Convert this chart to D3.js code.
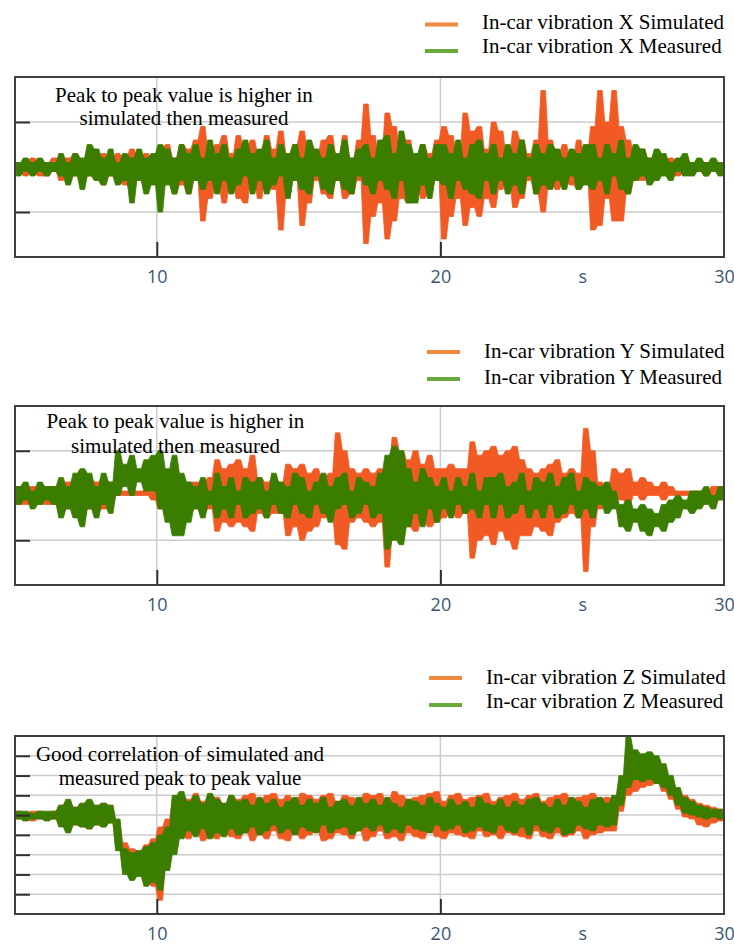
<!DOCTYPE html>
<html><head><meta charset="utf-8">
<script src="https://cdn.jsdelivr.net/npm/d3@7"></script>
<style>body{margin:0;background:#fff}svg{display:block}</style>
</head><body>
<svg id="c" width="734" height="945"></svg>
<script>
// ---------- DATA ----------
// Signals are given as per-bin peak envelopes (max / min) over 0.25 s bins from 5 s to 30 s.
const tStart = 5, binWidth = 0.25;
const xGridValues = [10, 20];
const xLabelValues = [10, 20, 25, 30];
const xLabelTexts = ["10", "20", "s", "30"];

const xSimHi = [1,1,2,1,1,2, 2,2,3,1,4,2,3,1,3,2,4,2,3,2, 3,5,2,5, 4, 6, 9,3, 5, 7,3,7,4,6, 3,7,4, 8,3, 5, 8,4, 3,6, 7,3,7, 2,6, 14, 7,3, 12, 9, 3,6,2,5,3,6, 9, 7,3, 12,8, 9,4, 10,8, 3, 8,6, 3,6, 17, 6, 3,5,2,6,3, 9, 17, 10, 17, 9, 6, 3, 4,2,3,1,2,1,2,1,1,1,1,1];
const xSimLo = [-1,-2,-1,-2,-2,-1, -3,-2,-2,-4,-2,-3,-4,-2,-3,-4,-5,-3,-5,-3, -5,-3,-6,-4, -6, -3, -12,-7, -4, -8,-4,-7,-8,-3, -7,-3,-5, -14,-6, -3, -13,-8, -3,-6, -7,-3,-7, -6,-3, -17, -11,-8, -16, -12, -7,-8,-3,-7,-6,-3, -16, -11,-7, -13,-9, -11,-7, -9,-5, -3, -9,-7, -3,-6, -10, -4, -5,-3,-4,-5,-3, -14, -13, -7, -12, -12, -6, -3, -3,-2,-3,-1,-2,-2,-1,-1,-1,-2,-1,-1];
const xMeasHi = [1,2,1,2,1,1, 3,1,3, 2,5, 4,2,4,1,3, 2, 4,2,3, 5, 4,2,5, 3,5, 2,6,3, 5,2,4,6,3, 4,6,2,5,3,5,2,6,4,2,5,3,6,2,4,5,2,6, 7,3,8,5, 3,5,2,5, 5,3,6,2,5,6,3, 5,2,5,3,6,2,5,3,5, 4,2,4,3,5, 5,2,5,3,6,2,5, 4,2,4, 3,1,2,3, 1,2,1,2,1];
const xMeasLo = [-2,-1,-2,-1,-2,-1, -2,-4,-2, -5,-2, -3,-4,-2,-4,-3, -8, -3,-6,-4, -10, -4,-6,-3, -6,-3, -5,-3,-6, -3,-6,-4,-2,-6, -3,-6,-4,-2,-7,-3,-5,-6,-2,-5,-6,-3,-5,-6,-2,-4,-6,-3, -5,-7,-3,-8, -8,-4,-7,-3, -4,-7,-3,-5,-6,-7,-3, -6,-3,-6,-4,-6,-2,-6,-4,-5, -3,-5,-2,-5,-4, -5,-3,-6,-2,-5,-6,-3, -2,-4,-3, -2,-3,-1,-2, -2,-1,-2,-1,-2];

const ySimHi = [2,2,2,2,2,2, 3,3,4,4,4,3,4,3, 1,1,1,1,1,2, 2,3,2, 3,3,3,3,4, 8,6,7,8,6,9, 4,3,4,3, 7,6,7,5,6, 4,5, 14,10, 6,5,6,5,6, 5, 13, 10,8,10,7,9, 6, 6,7,6,6, 12, 9,10, 11,9,10, 11,8, 6,5,6,7, 8, 5,6,5, 15, 10, 3,2, 6,5,6, 3,4,3,2,3,2, 1,1,1,1,1,2,2];
const ySimLo = [-2,-2,-2,-2,-2,-2, -4,-3,-4,-5,-3,-4,-3,-3, 0,0,0,0,0,-1, -3,-2,-3, -3,-4,-3,-4,-3, -8,-6,-7,-6,-7,-8, -4,-5,-4,-4, -9,-7,-10,-8,-7, -5,-4, -11,-12, -6,-5,-6,-7,-6, -16, -9, -8,-7,-8,-6,-7, -6, -5,-4,-5,-4, -14, -10,-9, -11,-8,-10, -12,-9, -9,-7,-8,-9, -6, -5,-4,-5, -17, -7, -3,-2, -1,-1,-2, 0,-1,0,0,-1,0, 0,0,0,0,0,0,-1];
const yMeasHi = [2,3,1,3,2,2, 4,2,5, 6, 5,2,5,3, 10, 7,9,6,8,9, 10,6,9, 5,3, 2,4,1,5,2,4,1,4,3, 4,1,5,3,2,5,4,1,3,5,2,4,5,1,4,3,2,5, 9,11,10, 6,3,6,4,2, 4,1,4,2,5,1,4, 4,5,2,3,5,1,4,3,5,2,4,5,1,4,3,2,3,1, -2,-1,-3,-2, -3,-4,-2,-1, 0,-1,1, 1,2,0,2];
const yMeasLo = [-2,-1,-3,-2,-1,-2, -5,-3,-5, -7, -3,-5,-2,-4, 0, 2,0,3,1,1, -3,-6,-9, -9,-6, -3,-5,-2,-5,-3,-5,-2,-5,-4, -3,-5,-2,-4,-5,-2,-4,-5,-2,-4,-6,-3,-2,-5,-4,-2,-5,-4, -12,-10,-11, -7,-4,-7,-3,-6, -3,-5,-2,-4,-3,-5,-2, -5,-2,-5,-4,-2,-5,-3,-5,-2,-5,-4,-2,-5,-3,-5,-2,-4,-3, -7,-8,-6,-8, -9,-7,-8,-6, -5,-3,-4, -3,-2,-3,-1];

const zSimHi = [2,1,2,2,1,2,5,7,4,6,7,5,6,5, -4, -14,-17,-18, -15,-12, -6, -2, 8, 10,8,11,7,10,9,6,10,8,10,11,7,10,11,8,10,7,11,10,8,10,11,7,10,9,8,11, 10,11,7,12,10,8,9,10,11,12,7,10,11,8,9,10,11,7,9,10,11,8,10,11,7,9,10,11,8,9,10,11,8,9, 8, 16, 34, 32,30,31,28, 24,19,13, 10,8, 6,5,4,3];
const zSimLo = [-2,-2,-3,-2,-2,-2,-5,-8,-5,-6,-7,-5,-6,-4, -14, -25,-28,-30, -33,-36, -43, -26, -16, -11,-12,-8,-13,-11,-12,-8,-11,-12,-9,-13,-10,-12,-8,-12,-13,-9,-12,-10,-8,-13,-12,-9,-10,-12,-8,-13, -11,-8,-12,-11,-13,-9,-11,-12,-8,-11,-12,-9,-10,-11,-12,-8,-11,-10,-12,-9,-10,-11,-12,-8,-11,-12,-9,-11,-10,-8,-12,-10,-9,-8, -8, 2, 10, 12,14,15,16, 12,8,3, -1,-2, -5,-6,-4,-3];
const zMeasHi = [2,2,1,2,2,2, 5,8,4,6,8,5,6,5, -2, -17,-19,-18, -16,-14, -10, -6, 10, 12,7,10,6,11,8,6,10,7, 8,5,9,6,8,4,7,9,5,8,6,9,4,7,8,5,9,6, 8,5,9,6,4,8,7,5,9,6,4,8,5,7,4,9,6,5,8,4,7,5,8,9,6,4,8,5,9,7,4,8,9,6, 10, 20, 40, 33,31,32,30, 26,20,14, 9,7, 5,4,3,3];
const zMeasLo = [-2,-3,-2,-2,-3,-2, -6,-9,-5,-6,-7,-5,-6,-4, -18, -30,-33,-31, -36,-34, -38, -28, -20, -12,-8,-11,-7,-12,-9,-11,-7,-10, -9,-6,-10,-8,-5,-9,-7,-10,-6,-8,-9,-5,-9,-7,-6,-10,-8,-6, -8,-5,-9,-7,-9,-5,-7,-8,-9,-5,-8,-7,-5,-9,-8,-6,-8,-9,-5,-8,-9,-6,-10,-5,-8,-9,-6,-10,-9,-5,-7,-8,-5,-6, -5, 5, 14, 18,17,18,16, 14,10,5, 1,0, -1,-2,-1,-2];

// ---------- LAYOUT ----------
const panels = [
  {top:77, bottom:257, yDomain:[-20,20], yTicks:[-10,10],
   sim:[xSimHi,xSimLo], meas:[xMeasHi,xMeasLo],
   legend:["In-car vibration X Simulated","In-car vibration X Measured"],
   legTextX:482, legTextY:[29,53], legLineX:[425,458], legLineY:[24.5,51],
   note:["Peak to peak value is higher in","simulated then measured"], noteX:184, noteY:[101.5,125]},
  {top:406, bottom:585, yDomain:[-20,20], yTicks:[-10,10],
   sim:[ySimHi,ySimLo], meas:[yMeasHi,yMeasLo],
   legend:["In-car vibration Y Simulated","In-car vibration Y Measured"],
   legTextX:484, legTextY:[358,384], legLineX:[427,460], legLineY:[352,379],
   note:["Peak to peak value is higher in","simulated then measured"], noteX:175.5, noteY:[428,453]},
  {top:736, bottom:914, yDomain:[-50,40], yTicks:[-40,-30,-20,-10,0,10,20,30],
   sim:[zSimHi,zSimLo], meas:[zMeasHi,zMeasLo],
   legend:["In-car vibration Z Simulated","In-car vibration Z Measured"],
   legTextX:486, legTextY:[684,708], legLineX:[429,462], legLineY:[678,705],
   note:["Good correlation of simulated and","measured peak to peak value"], noteX:180, noteY:[761,785]}
];
const L = 15, R = 724;
const simColor = "#f15a22", measColor = "#3a7d00";
const simLegColor = "#f0883e", measLegColor = "#6aaa3c";
const serif = "'Liberation Serif','Times New Roman',serif";

const svg = d3.select("#c");
const x = d3.scaleLinear().domain([5,30]).range([L,R]);

// min/max decimated rendering: each bin is a plateau between its min and max
function toBins(hi, lo){
  const pts = [];
  hi.forEach((h,i)=>{
    const t = tStart + i*binWidth;
    pts.push({t: t + binWidth*0.18, hi: h, lo: lo[i]});
    pts.push({t: t + binWidth*0.82, hi: h, lo: lo[i]});
  });
  return pts;
}

panels.forEach((p,k)=>{
  const y = d3.scaleLinear().domain(p.yDomain).range([p.bottom,p.top]);
  const g = svg.append("g");
  const clipId = "clip"+k;
  svg.append("clipPath").attr("id",clipId).append("rect")
    .attr("x",L).attr("y",p.top).attr("width",R-L).attr("height",p.bottom-p.top);

  g.append("g").selectAll("line").data(p.yTicks).join("line")
    .attr("x1",L).attr("x2",R).attr("y1",d=>y(d)).attr("y2",d=>y(d))
    .attr("stroke","#cccccc").attr("stroke-width",1.5);
  g.append("g").selectAll("line").data(xGridValues).join("line")
    .attr("x1",d=>x(d)).attr("x2",d=>x(d)).attr("y1",p.top).attr("y2",p.bottom)
    .attr("stroke","#cccccc").attr("stroke-width",1.5);

  const area = d3.area().x(d=>x(d.t)).y0(d=>y(d.lo)).y1(d=>y(d.hi));
  const sg = g.append("g").attr("clip-path",`url(#${clipId})`);
  [[p.sim,simColor],[p.meas,measColor]].forEach(([s,c])=>{
    sg.append("path").attr("d",area(toBins(s[0],s[1])))
      .attr("fill",c).attr("stroke",c).attr("stroke-width",0.8).attr("stroke-linejoin","bevel");
  });

  g.append("rect").attr("x",L).attr("y",p.top).attr("width",R-L).attr("height",p.bottom-p.top)
    .attr("fill","none").attr("stroke","#404040").attr("stroke-width",2);

  const ya = d3.axisLeft(y).tickValues(p.yTicks).tickSize(-15).tickFormat("");
  const yg = g.append("g").attr("transform",`translate(${L},0)`).call(ya);
  yg.select(".domain").remove();
  yg.selectAll("line").attr("stroke","#303030").attr("stroke-width",2);

  const xa = d3.axisBottom(x).tickValues(xGridValues).tickSize(-15).tickFormat("");
  const xg = g.append("g").attr("transform",`translate(0,${p.bottom})`).call(xa);
  xg.select(".domain").remove();
  xg.selectAll("line").attr("stroke","#303030").attr("stroke-width",2);

  const xl = d3.axisBottom(x).tickValues(xLabelValues).tickSize(0).tickPadding(13)
    .tickFormat((d,i)=>xLabelTexts[i]);
  const xlg = g.append("g").attr("transform",`translate(0,${p.bottom})`).call(xl);
  xlg.select(".domain").remove();
  xlg.selectAll("text").attr("font-family","'Open Sans',sans-serif").attr("font-size",18)
    .attr("fill","#3a5573");

  [simLegColor, measLegColor].forEach((c,j)=>{
    g.append("line").attr("x1",p.legLineX[0]).attr("x2",p.legLineX[1])
      .attr("y1",p.legLineY[j]).attr("y2",p.legLineY[j]).attr("stroke",c).attr("stroke-width",4);
    g.append("text").attr("x",p.legTextX).attr("y",p.legTextY[j]).text(p.legend[j])
      .attr("font-family",serif).attr("font-size",21).attr("fill","#000");
  });

  p.note.forEach((s,j)=>{
    g.append("text").attr("x",p.noteX).attr("y",p.noteY[j]).attr("text-anchor","middle").text(s)
      .attr("font-family",serif).attr("font-size",21).attr("fill","#000");
  });
});
</script>
</body></html>
